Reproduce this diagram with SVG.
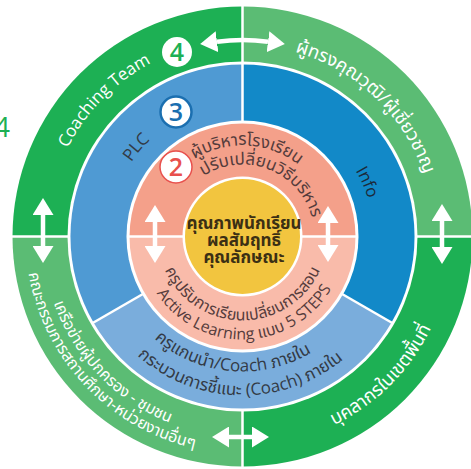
<svg xmlns="http://www.w3.org/2000/svg" width="471" height="469" viewBox="0 0 471 469">
<style>
.sep{stroke:#fff;stroke-width:2.5;fill:none}
.th{font-family:"Noto Sans Thai","Noto Sans Thai UI","Noto Sans","DejaVu Sans",sans-serif}
.lat{font-family:"Open Sans","Noto Sans Thai","Noto Sans",sans-serif}
.w{fill:#fff}
.blue-t{fill:#333a45}
.pink-t{fill:#553c3c}
.arr{stroke:#fff;stroke-width:4.5;fill:none}
</style>
<defs>
<marker id="ah" markerUnits="userSpaceOnUse" markerWidth="17" markerHeight="21" refX="0" refY="10.5" orient="auto-start-reverse" viewBox="0 0 17 21">
<path d="M0,0 L17,10.5 L0,21 Z" fill="#fff"/>
</marker>
<path id="p-coach" d="M82.9,350.3 A196,196 0 0 1 353.5,75.0"/>
<path id="p-expert" d="M128.3,82.2 A192,192 0 0 1 402.6,342.5"/>
<path id="p-staff" d="M122.1,408.5 A210,210 0 0 0 414.5,116.1"/>
<path id="p-net1" d="M80.7,118.9 A200,200 0 0 0 354.3,402.3"/>
<path id="p-net2" d="M68.1,107.4 A217,217 0 0 0 362.3,417.5"/>
<path id="p-plc" d="M139.9,322.6 A134,134 0 0 1 309.5,120.5"/>
<path id="p-info" d="M211.9,109.1 A131,131 0 0 1 314.8,345.7"/>
<path id="p-lead1" d="M108.0,248.3 A135,135 0 0 0 372.9,271.4"/>
<path id="p-lead2" d="M85.5,261.4 A159,159 0 0 0 398.6,266.8"/>
<path id="p-adm1" d="M153.8,216.0 A91,91 0 0 1 332.8,225.4"/>
<path id="p-adm2" d="M180.8,199.4 A72,72 0 0 1 313.2,250.2"/>
<path id="p-tch1" d="M157.6,239.5 A85,85 0 0 0 327.4,239.5"/>
<path id="p-tch2" d="M139.5,239.2 A103,103 0 0 0 345.5,233.8"/>
</defs>

<text x="-6" y="137" font-family="Open Sans, sans-serif" font-size="28" fill="#1DB054">4</text>

<g id="ring-outer">
<path d="M242.5,236.5 L12.5,236.5 A230,230 0 0 1 242.5,6.5 Z" fill="#1DB054"/>
<path d="M242.5,236.5 L242.5,6.5 A230,230 0 0 1 472.5,236.5 Z" fill="#5BBC74"/>
<path d="M242.5,236.5 L472.5,236.5 A230,230 0 0 1 242.5,466.5 Z" fill="#1DB054"/>
<path d="M242.5,236.5 L242.5,466.5 A230,230 0 0 1 12.5,236.5 Z" fill="#5BBC74"/>
<circle cx="242.5" cy="236.5" r="175" fill="#fff"/>
<line class="sep" x1="242.5" y1="4" x2="242.5" y2="63"/>
<line class="sep" x1="242.5" y1="410" x2="242.5" y2="469"/>
<line class="sep" x1="8" y1="236.5" x2="69" y2="236.5"/>
<line class="sep" x1="416" y1="236.5" x2="476" y2="236.5"/>
<text class="lat w" font-size="17"><textPath href="#p-coach" startOffset="50%" text-anchor="middle">Coaching Team</textPath></text>
<text class="th w" font-size="18.5"><textPath href="#p-expert" startOffset="50%" text-anchor="middle">ผู้ทรงคุณวุฒิ/ผู้เชี่ยวชาญ</textPath></text>
<text class="th w" font-size="18.5"><textPath href="#p-staff" startOffset="50%" text-anchor="middle">บุคลากรในเขตพื้นที่</textPath></text>
<text class="th w" font-size="16"><textPath href="#p-net1" startOffset="50%" text-anchor="middle">เครือข่ายผู้ปกครอง - ชุมชน</textPath></text>
<text class="th w" font-size="16"><textPath href="#p-net2" startOffset="50%" text-anchor="middle">คณะกรรมการสถานศึกษา-หน่วยงานอื่นๆ</textPath></text>
</g>

<g id="ring-blue">
<path d="M242.5,236.5 L93.5,322.5 A172,172 0 0 1 242.5,64.5 Z" fill="#4F9AD3"/>
<path d="M242.5,236.5 L242.5,64.5 A172,172 0 0 1 391.5,322.5 Z" fill="#1289C8"/>
<path d="M242.5,236.5 L391.5,322.5 A172,172 0 0 1 93.5,322.5 Z" fill="#7AADDC"/>
<line class="sep" x1="341.2" y1="293.5" x2="393.2" y2="323.5"/>
<line class="sep" x1="143.8" y1="293.5" x2="91.8" y2="323.5"/>
<line class="sep" x1="242.5" y1="122.5" x2="242.5" y2="62.5"/>
<circle cx="242.5" cy="236.5" r="116" fill="#fff"/>
<text class="lat blue-t" font-size="17"><textPath href="#p-plc" startOffset="50%" text-anchor="middle">PLC</textPath></text>
<text class="lat" font-size="17" fill="#1c2a3a"><textPath href="#p-info" startOffset="50%" text-anchor="middle">Info</textPath></text>
<text class="lat blue-t" font-size="17"><textPath href="#p-lead1" startOffset="50%" text-anchor="middle">ครูแกนนำ/Coach ภายใน</textPath></text>
<text class="lat blue-t" font-size="17"><textPath href="#p-lead2" startOffset="50%" text-anchor="middle">กระบวนการชี้แนะ (Coach) ภายใน</textPath></text>
</g>

<g id="ring-pink">
<path d="M129.5,236.5 A113,113 0 0 1 355.5,236.5 Z" fill="#F4A08A"/>
<path d="M355.5,236.5 A113,113 0 0 1 129.5,236.5 Z" fill="#F9BBAA"/>
<line class="sep" x1="127" y1="236.5" x2="186" y2="236.5"/>
<line class="sep" x1="299" y1="236.5" x2="358" y2="236.5"/>
<circle cx="242.5" cy="236.5" r="60" fill="#fff"/>
<text class="th pink-t" font-size="17"><textPath href="#p-adm1" startOffset="50%" text-anchor="middle">ผู้บริหารโรงเรียน</textPath></text>
<text class="th pink-t" font-size="17"><textPath href="#p-adm2" startOffset="50%" text-anchor="middle">ปรับเปลี่ยนวิธีบริหาร</textPath></text>
<text class="th pink-t" font-size="16"><textPath href="#p-tch1" startOffset="50%" text-anchor="middle">ครูปรับการเรียนเปลี่ยนการสอน</textPath></text>
<text class="lat pink-t" font-size="16"><textPath href="#p-tch2" startOffset="50%" text-anchor="middle">Active Learning แบบ 5 STEPS</textPath></text>
</g>

<g id="center">
<circle cx="242.5" cy="236.5" r="57.5" fill="#F2C53F"/>
<g class="th" font-size="17" font-weight="bold" fill="#3b2f14" text-anchor="middle">
<text x="244" y="229">คุณภาพนักเรียน</text>
<text x="244" y="246">ผลสัมฤทธิ์</text>
<text x="244" y="263">คุณลักษณะ</text>
</g>
</g>

<g id="badge-4">
<circle cx="177" cy="52" r="15" fill="#fff"/>
<text x="177" y="61" font-family="Open Sans, sans-serif" font-size="25" font-weight="600" fill="#1DB054" text-anchor="middle">4</text>
</g>
<g id="badge-3">
<circle cx="176" cy="112" r="15.5" fill="#fff" stroke="#1B6FB0" stroke-width="2.5"/>
<text x="176" y="121" font-family="Open Sans, sans-serif" font-size="25" font-weight="600" fill="#1B6FB0" text-anchor="middle">3</text>
</g>
<g id="badge-2">
<circle cx="176" cy="167" r="16" fill="#fff" stroke="#E8504D" stroke-width="1.5"/>
<text x="176" y="176" font-family="Open Sans, sans-serif" font-size="25" font-weight="600" fill="#E8504D" text-anchor="middle">2</text>
</g>

<g id="connectors">
<path class="arr" d="M217,41.7 A196.5,196.5 0 0 1 268,41.7" marker-start="url(#ah)" marker-end="url(#ah)"/>
<path class="arr" d="M229,437 L252,437" marker-start="url(#ah)" marker-end="url(#ah)"/>
<path class="arr" d="M43,215 L43,246" marker-start="url(#ah)" marker-end="url(#ah)"/>
<path class="arr" d="M442,221 L442,247" marker-start="url(#ah)" marker-end="url(#ah)"/>
<path class="arr" d="M155,222 L155,246" marker-start="url(#ah)" marker-end="url(#ah)"/>
<path class="arr" d="M328,223 L328,245" marker-start="url(#ah)" marker-end="url(#ah)"/>
</g>
</svg>
